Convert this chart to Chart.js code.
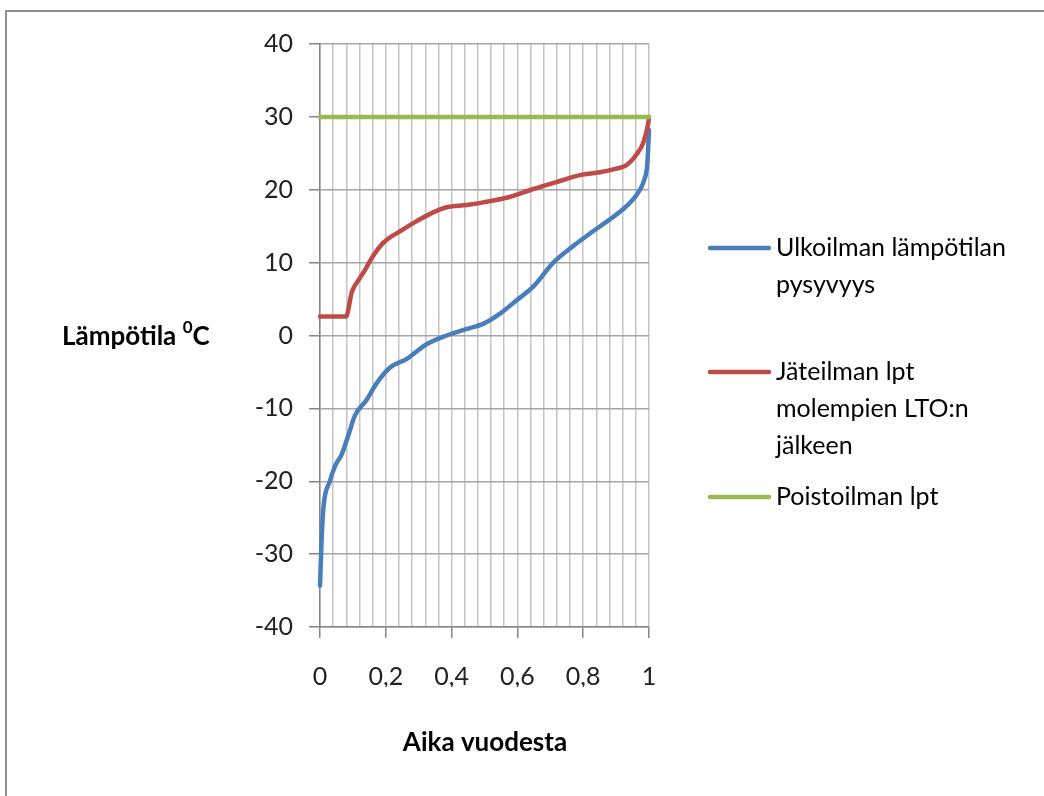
<!DOCTYPE html>
<html>
<head>
<meta charset="utf-8">
<script src="https://cdn.jsdelivr.net/npm/chart.js@4/dist/chart.umd.min.js"></script>
<style>
  html, body { margin: 0; padding: 0; background: #fff; overflow: hidden; }
  #wrap { position: relative; width: 1044px; height: 796px; overflow: hidden; }
  #frame { position: absolute; left: 5px; top: 10px; width: 1200px; height: 1000px; border: 2px solid #8e8e8e; box-sizing: border-box; }
  #chart { position: absolute; left: 0; top: 0; }
</style>
</head>
<body>
<div id="wrap">
  <div id="frame"></div>
  <canvas id="chart" width="1044" height="796"></canvas>
</div>
<script>
    // Sarjat (luettu kuvasta)
    const ulkoX = [0, 0.005, 0.01, 0.03, 0.046, 0.066, 0.089, 0.106, 0.142, 0.173, 0.213, 0.264, 0.324, 0.385, 0.446, 0.496, 0.547, 0.598, 0.648, 0.709, 0.77, 0.83, 0.88, 0.92, 0.95, 0.97, 0.985, 0.995, 1];
    const ulkoY = [-34.3, -28, -23.8, -20, -17.9, -16.3, -13.3, -11, -8.8, -6.5, -4.4, -3.2, -1.2, 0, 0.9, 1.6, 3.0, 4.85, 6.7, 10, 12.3, 14.3, 15.9, 17.3, 18.6, 19.8, 21.3, 23.6, 28.2];

    const jateX = [0, 0.079, 0.097, 0.117, 0.137, 0.157, 0.192, 0.243, 0.294, 0.344, 0.385, 0.446, 0.5, 0.567, 0.648, 0.729, 0.79, 0.851, 0.891, 0.932, 0.963, 0.983, 0.998, 1];
    const jateY = [2.6, 2.6, 6.0, 7.6, 9.0, 10.6, 12.7, 14.3, 15.7, 16.9, 17.6, 17.9, 18.3, 18.9, 20.1, 21.2, 22.0, 22.4, 22.8, 23.4, 24.9, 26.5, 29.2, 30];

    const poistoX = [0, 1];
    const poistoY = [30, 30];

    const seriesNames = [
        ['Ulkoilman lämpötilan', 'pysyvyys'],
        ['Jäteilman lpt', 'molempien LTO:n', 'jälkeen'],
        ['Poistoilman lpt']
    ];
    const seriesColors = ['#4a7ebb', '#be4b48', '#98b954'];

    const yTicks = [-40, -30, -20, -10, 0, 10, 20, 30, 40];
    const xLabelTicks = [0, 0.2, 0.4, 0.6, 0.8, 1];
    const xLabelTexts = ['0', '0,2', '0,4', '0,6', '0,8', '1'];
    const xGridStep = 0.04;

    const yTitle = 'Lämpötila ';
    const ySup = '0';
    const yUnit = 'C';
    const xTitle = 'Aika vuodesta';

    const FONT = "Lato, 'Open Sans', sans-serif";

    const toPoints = (xs, ys) => xs.map((x, i) => ({ x: x, y: ys[i] }));
    const isMajor = (v) => Math.abs(v * 5 - Math.round(v * 5)) < 1e-6;

    // Selite ja akselien otsikot piirretään itse
    const extras = {
        id: 'extras',
        afterDraw(chart) {
            const ctx = chart.ctx;
            ctx.save();
            // selite
            const legendY = [248, 372, 497];
            ctx.font = '25px ' + FONT;
            ctx.textBaseline = 'middle';
            ctx.fillStyle = '#000';
            seriesNames.forEach((lines, i) => {
                ctx.strokeStyle = seriesColors[i];
                ctx.lineWidth = 4.5;
                ctx.lineCap = 'round';
                ctx.beginPath();
                ctx.moveTo(710, legendY[i]);
                ctx.lineTo(769, legendY[i]);
                ctx.stroke();
                lines.forEach((t, j) => ctx.fillText(t, 776, legendY[i] + j * 37));
            });
            // y-otsikko
            ctx.font = 'bold 26px ' + FONT;
            let x = 62;
            ctx.fillText(yTitle, x, 337);
            x += ctx.measureText(yTitle).width;
            ctx.font = 'bold 17px ' + FONT;
            ctx.fillText(ySup, x, 328);
            x += ctx.measureText(ySup).width;
            ctx.font = 'bold 26px ' + FONT;
            ctx.fillText(yUnit, x, 337);
            // x-otsikko
            ctx.textAlign = 'center';
            ctx.fillText(xTitle, 485, 743);
            ctx.restore();
        }
    };

    const ctx = document.getElementById('chart').getContext('2d');
    new Chart(ctx, {
        type: 'line',
        data: {
            datasets: [{
                label: seriesNames[0].join(' '),
                data: toPoints(ulkoX, ulkoY),
                borderColor: seriesColors[0],
                order: 3
            }, {
                label: seriesNames[1].join(' '),
                data: toPoints(jateX, jateY),
                borderColor: seriesColors[1],
                order: 2
            }, {
                label: seriesNames[2].join(' '),
                data: toPoints(poistoX, poistoY),
                borderColor: seriesColors[2],
                order: 1
            }]
        },
        options: {
            responsive: false,
            animation: false,
            devicePixelRatio: 1,
            layout: { padding: { left: 0, top: 44, right: 395, bottom: 109 } },
            elements: {
                point: { radius: 0 },
                line: { borderWidth: 4.5, cubicInterpolationMode: 'monotone', fill: false, borderCapStyle: 'round', borderJoinStyle: 'round' }
            },
            clip: 6,
            plugins: {
                legend: { display: false },
                tooltip: { enabled: false }
            },
            scales: {
                x: {
                    type: 'linear',
                    min: 0,
                    max: 1,
                    afterFit: (s) => { s.height = 60; },
                    afterBuildTicks: (s) => {
                        const n = Math.round(1 / xGridStep);
                        s.ticks = [];
                        for (let i = 0; i <= n; i++) s.ticks.push({ value: i * xGridStep });
                    },
                    border: { color: '#868686', width: 1.5 },
                    grid: {
                        color: '#c4c4c4',
                        lineWidth: 1.5,
                        tickLength: 11,
                        tickColor: (c) => (c.tick && isMajor(c.tick.value)) ? '#868686' : 'rgba(0,0,0,0)'
                    },
                    ticks: {
                        autoSkip: false,
                        maxRotation: 0,
                        padding: 24,
                        color: '#222',
                        font: { family: FONT, size: 25 },
                        callback: (v) => {
                            const k = xLabelTicks.findIndex(t => Math.abs(t - v) < 1e-6);
                            return k < 0 ? '' : xLabelTexts[k];
                        }
                    }
                },
                y: {
                    min: -40,
                    max: 40,
                    afterFit: (s) => { s.width = 320; },
                    afterBuildTicks: (s) => { s.ticks = yTicks.map(v => ({ value: v })); },
                    border: { color: '#868686', width: 1.5 },
                    grid: {
                        color: '#a6a6a6',
                        lineWidth: 1.5,
                        tickLength: 11,
                        tickColor: '#868686'
                    },
                    ticks: {
                        padding: 16,
                        color: '#222',
                        font: { family: FONT, size: 25 }
                    }
                }
            }
        },
        plugins: [extras]
    });
</script>
</body>
</html>
